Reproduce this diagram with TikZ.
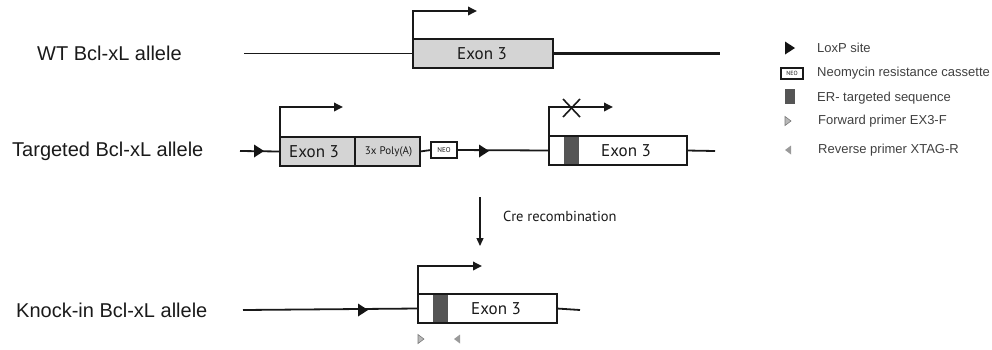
\documentclass[tikz,border=0pt]{standalone}
\usepackage{fontspec}
\setmainfont{Liberation Sans}
\newfontfamily\myr{PT Sans}
\usetikzlibrary{arrows.meta,calc}
\definecolor{exfill}{HTML}{D4D4D4}
\definecolor{erbar}{HTML}{555555}
\definecolor{txt}{HTML}{1A1A1A}
\definecolor{primer}{HTML}{9A9A9A}
\tikzset{
  dna/.style={line width=1.8pt, draw=black!90},
  box/.style={draw=black!90, line width=2.2pt, inner sep=0pt, outer sep=0pt, rectangle},
  exon/.style={box, fill=exfill},
  white box/.style={box, fill=white},
  bar/.style={fill=erbar, draw=none, inner sep=0pt, outer sep=0pt, rectangle},
  extext/.style={font=\myr\fontsize{17}{17}\selectfont, text=txt, inner sep=0pt},
  prom/.style={line width=1.8pt, draw=black!90, -{Triangle[length=9pt,width=8.5pt]}},
  lab/.style={font=\fontsize{20}{20}\selectfont, text=txt, anchor=west, inner sep=0pt},
  leg/.style={font=\fontsize{13}{13}\selectfont, text=black!75, anchor=west, inner sep=0pt},
  loxptri/.pic={\fill[black!92] (-5,-6.5) -- (5,0) -- (-5,6.5) -- cycle;},
  fwdprimer/.pic={\filldraw[fill=primer!70, draw=primer!80!black, line width=0.6pt] (-3,-4.5) -- (3,0) -- (-3,4.5) -- cycle;},
  revprimer/.pic={\fill[primer] (3,-4.5) -- (-3,0) -- (3,4.5) -- cycle;},
}
\begin{document}
\begin{tikzpicture}[x=1pt,y=-1pt]
\useasboundingbox (0,0) rectangle (992,349);

% ---------- row labels
\node[lab] (lwt) at (37,53) {WT Bcl-xL allele};
\node[lab] (ltg) at (12,151) {Targeted Bcl-xL allele};
\node[lab] (lki) at (16,310) {Knock-in Bcl-xL allele};

% ---------- WT allele
\node[exon, minimum width=140pt, minimum height=29pt] (wt) at (483,53.5) {};
\node[extext] (wtt) at (482,54) {Exon 3};
\coordinate (wtL) at (244,53.5);
\coordinate (wtR) at (720,53.5);
\draw[dna] (wtL) -- (wt.west);
\draw[dna, line width=3pt] (wt.east) -- (wtR);
\draw[prom] (wt.north west) -- ++(0,-28) -- ++(64,0);

% ---------- Targeted allele
\coordinate (tgL) at (240,151);
\coordinate (tgR) at (715,151);
\node[exon, minimum width=75pt, minimum height=29pt] (tex) at (317.5,151.5) {};
\node[exon, minimum width=65pt, minimum height=29pt] (tpa) at (387.5,151.5) {};
\node[extext] (text1) at (314,152) {Exon 3};
\node[font=\myr\fontsize{11}{11}\selectfont, text=txt, inner sep=0pt] (tpat) at (388.5,152) {3x Poly(A)};
\node[box, line width=1.4pt, fill=white, minimum width=26pt, minimum height=16pt,
      font=\myr\fontsize{7}{7}\selectfont, text=txt] (neo) at (444,150) {NEO};
\node[white box, minimum width=138pt, minimum height=29pt] (tb2) at (618,150.5) {};
\node[bar, minimum width=15pt, minimum height=27pt] (tbar) at (571.5,150.5) {};
\node[extext] (text2) at (626,151) {Exon 3};
\draw[dna] (tgL) -- (tex.west);
\draw[dna] (tpa.east) -- (neo.west);
\draw[dna] (neo.east) -- (tb2.west);
\draw[dna] (tb2.east) -- (tgR);
\pic at (259,151) {loxptri};
\pic at (484,151) {loxptri};
\draw[prom] (tex.north west) -- ++(0,-30) -- ++(63,0);
\draw[prom] (tb2.north west) -- ++(0,-29) -- ++(64,0);
\coordinate (xc) at (571.5,108);
\draw[line width=1.6pt, black!90] ($(xc)+(-8.5,-9)$) -- ($(xc)+(8.5,9)$);
\draw[line width=1.6pt, black!90] ($(xc)+(-8.5,9)$) -- ($(xc)+(8.5,-9)$);

% ---------- Cre recombination
\coordinate (creT) at (480,197);
\coordinate (creB) at (480,246);
\draw[line width=1.4pt, black!90, -{Triangle[length=8pt,width=7pt]}] (creT) -- (creB);
\node[font=\myr\fontsize{14.5}{14.5}\selectfont, text=txt, anchor=west, inner sep=0pt] (cre) at (503,216) {Cre recombination};

% ---------- Knock-in allele
\coordinate (kiL) at (243,310);
\coordinate (kiR) at (580,310);
\node[white box, minimum width=139pt, minimum height=29pt] (ki) at (487.5,308.5) {};
\node[bar, minimum width=15pt, minimum height=27pt] (kbar) at (440.5,308.5) {};
\node[extext] (kit) at (496,309) {Exon 3};
\draw[dna] (kiL) -- (ki.west);
\draw[dna] (ki.east) -- (kiR);
\pic at (363,310) {loxptri};
\draw[prom] (ki.north west) -- ++(0,-28) -- ++(64,0);
\pic at (421,339) {fwdprimer};
\pic at (457,339) {revprimer};

% ---------- Legend
\pic at (790,48) {loxptri};
\node[leg] (l1) at (817,48) {LoxP site};
\node[box, line width=1.2pt, fill=white, minimum width=22pt, minimum height=11pt,
      font=\myr\fontsize{6}{6}\selectfont, text=txt] (lneo) at (792,73.5) {NEO};
\node[leg] (l2) at (817,73) {Neomycin resistance cassette};
\node[bar, minimum width=10pt, minimum height=15pt] (lbar) at (790,96.5) {};
\node[leg] (l3) at (817,98) {ER- targeted sequence};
\pic at (788,121) {fwdprimer};
\node[leg] (l4) at (818,121) {Forward primer EX3-F};
\pic at (788,150) {revprimer};
\node[leg] (l5) at (818,150) {Reverse primer XTAG-R};
\end{tikzpicture}
\end{document}
